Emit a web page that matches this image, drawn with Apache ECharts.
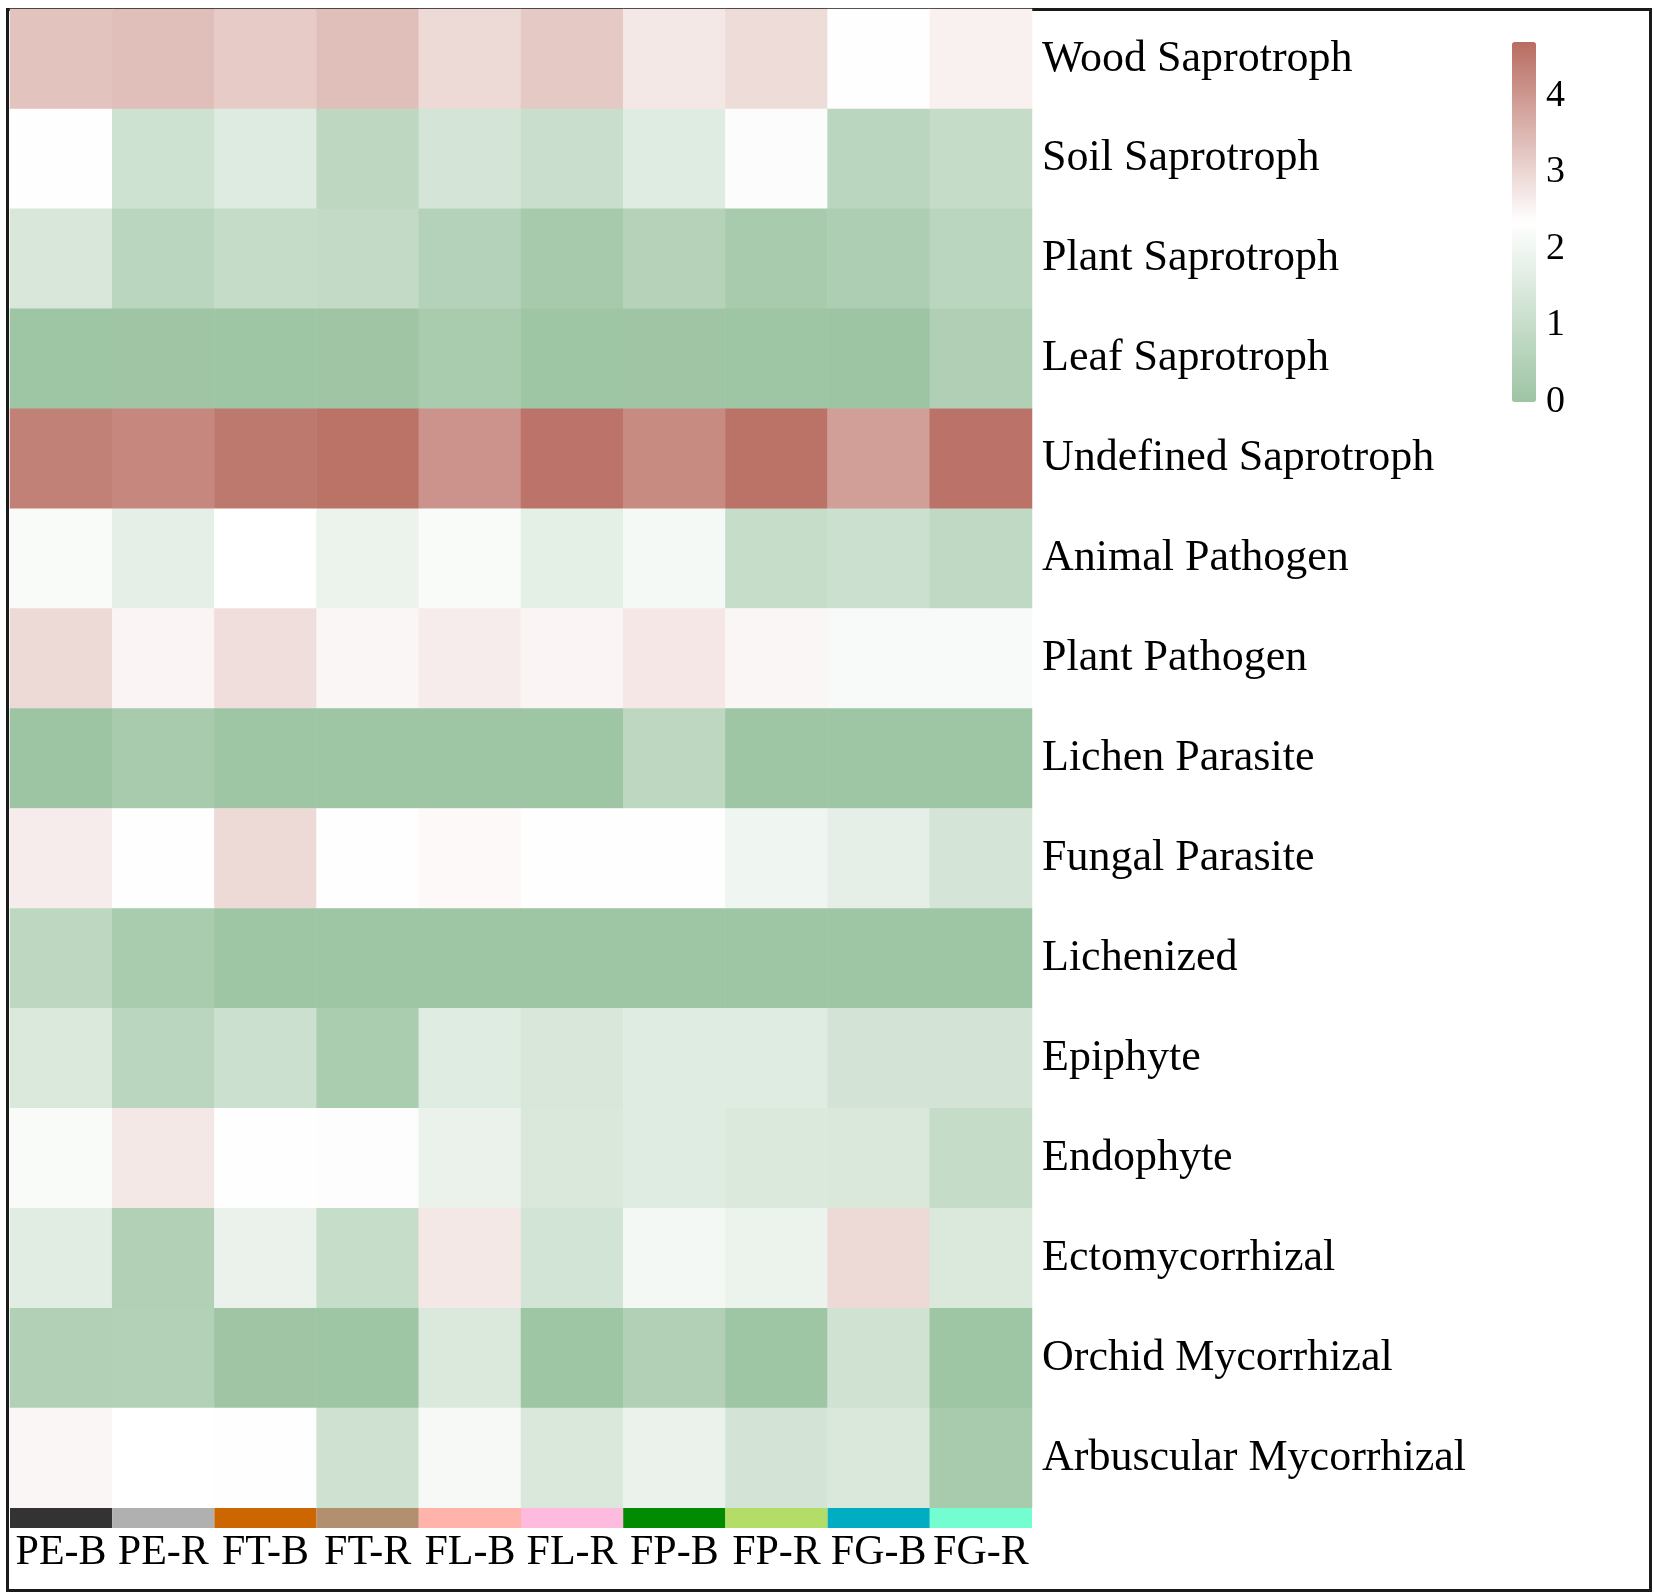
<!DOCTYPE html>
<html>
<head>
<meta charset="utf-8">
<script src="https://cdn.jsdelivr.net/npm/echarts@6/dist/echarts.min.js"></script>
<style>
html,body{margin:0;padding:0;background:#fff;}
#main{width:1654px;height:1594px;}
</style>
</head>
<body>
<div id="main"></div>
<script>
// samples (columns) and functional guilds (rows)
var samples = ['PE-B','PE-R','FT-B','FT-R','FL-B','FL-R','FP-B','FP-R','FG-B','FG-R'];
var sampleColors = ['#333333','#b0b0b0','#cc6600','#b28f6e','#ffb3aa','#ffbbdd','#008b00','#b3dd66','#00acc1','#73fdd0'];
var guilds = ['Wood Saprotroph','Soil Saprotroph','Plant Saprotroph','Leaf Saprotroph','Undefined Saprotroph',
  'Animal Pathogen','Plant Pathogen','Lichen Parasite','Fungal Parasite','Lichenized',
  'Epiphyte','Endophyte','Ectomycorrhizal','Orchid Mycorrhizal','Arbuscular Mycorrhizal'];

// one array per guild, values in sample order
var woodSap      = [3.31, 3.39, 3.18, 3.38, 2.96, 3.21, 2.72, 2.91, 2.37, 2.57];
var soilSap      = [2.37, 1.18, 1.56, 0.77, 1.32, 1.05, 1.58, 2.40, 0.72, 0.94];
var plantSap     = [1.41, 0.72, 0.96, 0.89, 0.55, 0.24, 0.60, 0.26, 0.41, 0.72];
var leafSap      = [0.03, 0.04, 0.03, 0.04, 0.28, 0.03, 0.04, 0.03, 0.01, 0.45];
var undefinedSap = [4.37, 4.27, 4.49, 4.59, 4.07, 4.57, 4.21, 4.59, 3.88, 4.60];
var animalPath   = [2.20, 1.73, 2.35, 1.87, 2.20, 1.70, 2.11, 0.98, 1.10, 0.84];
var plantPath    = [2.94, 2.51, 2.88, 2.50, 2.65, 2.51, 2.73, 2.50, 2.16, 2.16];
var lichenPara   = [0.00, 0.26, 0.02, 0.02, 0.02, 0.02, 0.77, 0.02, 0.02, 0.02];
var fungalPara   = [2.65, 2.37, 2.94, 2.36, 2.45, 2.37, 2.37, 1.97, 1.73, 1.32];
var lichenized   = [0.77, 0.29, 0.02, 0.02, 0.02, 0.02, 0.02, 0.02, 0.02, 0.02];
var epiphyte     = [1.46, 0.72, 1.10, 0.31, 1.58, 1.41, 1.58, 1.58, 1.29, 1.29];
var endophyte    = [2.18, 2.72, 2.33, 2.38, 1.85, 1.44, 1.58, 1.46, 1.44, 0.94];
var ectoMyc      = [1.63, 0.48, 1.85, 0.98, 2.72, 1.27, 2.06, 1.89, 2.94, 1.49];
var orchidMyc    = [0.48, 0.50, 0.05, 0.02, 1.49, 0.02, 0.48, 0.02, 1.22, 0.02];
var arbMyc       = [2.50, 2.35, 2.30, 1.20, 2.13, 1.44, 1.85, 1.29, 1.44, 0.26];

var rows = [woodSap, soilSap, plantSap, leafSap, undefinedSap, animalPath, plantPath, lichenPara,
  fungalPara, lichenized, epiphyte, endophyte, ectoMyc, orchidMyc, arbMyc];

var scaleMin = 0, scaleMax = 4.7;
var colorTicks = [0, 1, 2, 3, 4];

var heatData = [];
for (var i = 0; i < rows.length; i++) {
  for (var j = 0; j < samples.length; j++) {
    heatData.push([j, i, rows[i][j]]);
  }
}
var barData = [];
for (var k = 0; k < samples.length; k++) {
  barData.push({ value: 1, itemStyle: { color: sampleColors[k] } });
}

var serif = '"Liberation Serif", "Times New Roman", serif';
var myChart = echarts.init(document.getElementById('main'));
var option = {
  backgroundColor: '#fff',
  animation: false,
  grid: [
    { left: 10, top: 9, width: 1022, height: 1499 },
    { left: 10, top: 1508, width: 1022, height: 20 },
    { left: 1512, top: 42, width: 24, height: 360 }
  ],
  xAxis: [
    { gridIndex: 0, type: 'category', data: samples, show: false },
    { gridIndex: 1, type: 'category', data: samples,
      axisLine: { show: false }, axisTick: { show: false },
      axisLabel: { interval: 0, fontFamily: serif, fontSize: 42, color: '#000', margin: 4 } },
    { gridIndex: 2, type: 'value', show: false }
  ],
  yAxis: [
    { gridIndex: 0, type: 'category', data: guilds, inverse: true, position: 'right',
      axisLine: { show: false }, axisTick: { show: false }, splitLine: { show: false },
      axisLabel: { fontFamily: serif, fontSize: 44, color: '#000', margin: 10 } },
    { gridIndex: 1, type: 'value', min: 0, max: 1, show: false },
    { gridIndex: 2, type: 'value', min: scaleMin, max: scaleMax, interval: 1, position: 'right',
      axisLine: { show: false }, axisTick: { show: false }, splitLine: { show: false },
      axisLabel: { fontFamily: serif, fontSize: 38, color: '#000', margin: 10, showMaxLabel: false,
        formatter: function (v) { return colorTicks.indexOf(v) >= 0 ? String(v) : ''; } } }
  ],
  visualMap: {
    type: 'continuous',
    seriesIndex: 0,
    min: scaleMin,
    max: scaleMax,
    calculable: false,
    padding: 0,
    left: 1512,
    top: 42,
    itemWidth: 24,
    itemHeight: 360,
    showLabel: false,
    inRange: { color: ['#9dc4a3', '#ffffff', '#b86c61'] }
  },
  series: [
    { type: 'heatmap', xAxisIndex: 0, yAxisIndex: 0, data: heatData,
      itemStyle: { borderWidth: 0 }, emphasis: { disabled: true } },
    { type: 'bar', xAxisIndex: 1, yAxisIndex: 1, data: barData, barWidth: '100%', barCategoryGap: 0,
      silent: true }
  ],
  graphic: [
    { type: 'rect', left: 5, top: 7, shape: { width: 1643, height: 1581 },
      style: { fill: 'none', stroke: '#1a1a1a', lineWidth: 3 }, silent: true }
  ]
};
myChart.setOption(option);
</script>
</body>
</html>
